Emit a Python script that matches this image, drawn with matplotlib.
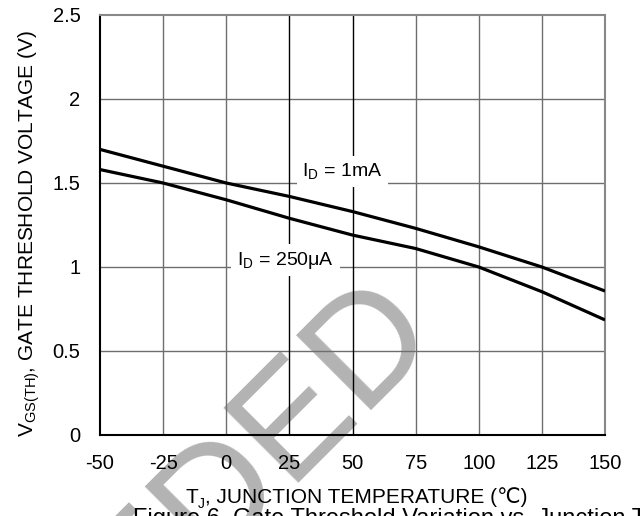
import matplotlib
matplotlib.use("Agg")
import matplotlib.pyplot as plt

plt.rcParams['font.family'] = ['Liberation Sans', 'DejaVu Sans']
plt.rcParams['mathtext.fontset'] = 'custom'
plt.rcParams['mathtext.rm'] = 'Liberation Sans'
plt.rcParams['mathtext.it'] = 'Liberation Sans'

temps = [-50, -25, 0, 25, 50, 75, 100, 125, 150]
vth_1ma = [1.70, 1.60, 1.50, 1.42, 1.33, 1.23, 1.12, 1.00, 0.857]
vth_250ua = [1.58, 1.50, 1.40, 1.29, 1.19, 1.11, 1.00, 0.853, 0.685]
xticks = [-50, -25, 0, 25, 50, 75, 100, 125, 150]
yticks = [0, 0.5, 1, 1.5, 2, 2.5]
ytick_labels = ['0', '0.5', '1', '1.5', '2', '2.5']

W, H = 640, 516
fig = plt.figure(figsize=(W / 100, H / 100), dpi=100)
ax = fig.add_axes([100 / W, 1 - 435 / H, 505 / W, 420 / H])

# watermark (behind everything)
fig.text(440 / W, 1 - 334 / H, 'SUPERSEDED', rotation=45, fontsize=111,
         color='#b3b3b3', ha='right', va='baseline', rotation_mode='anchor',
         zorder=-5)

ax.set_xlim(-50, 150)
ax.set_ylim(0, 2.5)
ax.patch.set_alpha(0)

grid_gray = '#6e6e6e'
for y in yticks[1:-1]:
    ax.axhline(y, color=grid_gray, lw=1.0, zorder=1)
for x in xticks[1:-1]:
    c = 'black' if x in (25, 50) else grid_gray
    ax.axvline(x, color=c, lw=1.0, zorder=1)

ax.plot(temps, vth_1ma, color='black', lw=2.3, zorder=3, solid_capstyle='butt')
ax.plot(temps, vth_250ua, color='black', lw=2.3, zorder=3, solid_capstyle='butt')

bbox = dict(facecolor='white', edgecolor='none', pad=4)
ax.text(46, 1.57, r'I$_\mathregular{D}$ = 1mA', fontsize=14, ha='center', va='center',
        bbox=bbox, zorder=4)
ax.text(23.5, 1.04, r'I$_\mathregular{D}$ = 250μA', fontsize=14, ha='center', va='center',
        bbox=bbox, zorder=4)

ax.set_xticks(xticks)
ax.set_xticklabels([str(t) for t in xticks])
ax.set_yticks(yticks)
ax.set_yticklabels(ytick_labels)
ax.tick_params(length=0, labelsize=14.5, pad=14)

for s in ('left', 'bottom'):
    ax.spines[s].set_color('black')
    ax.spines[s].set_linewidth(1.5)
for s in ('top', 'right'):
    ax.spines[s].set_color('#888888')
    ax.spines[s].set_linewidth(1.5)

ax.set_ylabel(r'V$_\mathregular{GS(TH)}$, GATE THRESHOLD VOLTAGE (V)', fontsize=15)
ax.yaxis.set_label_coords(-58 / 505, 0.48)

# x label composed from pieces so that ℃ can fall back to DejaVu Sans
renderer = fig.canvas.get_renderer()
x0 = 185
yb = 1 - 503 / H
t1 = fig.text(x0 / W, yb, 'T', fontsize=15, ha='left', va='baseline')
w1 = t1.get_window_extent(renderer).width
t2 = fig.text((x0 + w1) / W, yb - 5 / H, 'J', fontsize=10, ha='left', va='baseline')
w2 = t2.get_window_extent(renderer).width
fig.text((x0 + w1 + w2) / W, yb, ', JUNCTION TEMPERATURE (℃)', fontsize=15,
         ha='left', va='baseline')

fig.text(133 / W, 1 - 525 / H,
         'Figure 6. Gate Threshold Variation vs. Junction Temperature',
         fontsize=17, ha='left', va='baseline')

fig.savefig('out.png', dpi=100)
